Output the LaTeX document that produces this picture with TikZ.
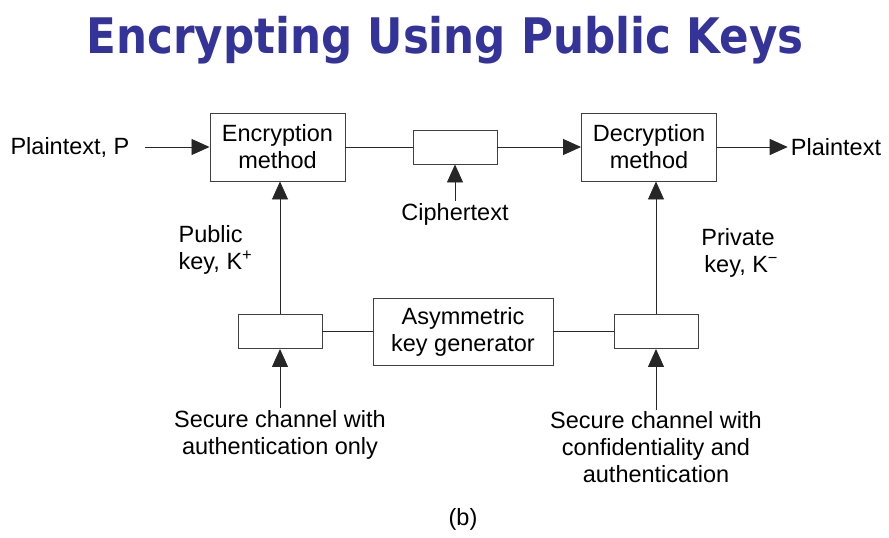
\documentclass[tikz,border=0pt]{standalone}
\usepackage{fontspec}
\setmainfont{Liberation Sans}
\newfontfamily\titlefont{DejaVu Sans}
\usetikzlibrary{arrows.meta}
\definecolor{titleblue}{HTML}{333399}
\tikzstyle{block} = [rectangle, minimum width=135pt, minimum height=68pt, text centered, align=center, draw=black!75, line width=0.9pt, inner sep=0pt]
\tikzstyle{slot} = [rectangle, minimum width=84pt, minimum height=34pt, draw=black!75, line width=0.9pt, inner sep=0pt]
\tikzstyle{txt} = [align=center, inner sep=2pt]
\tikzstyle{arrow} = [line width=0.9pt, black!85, -{Triangle[length=18pt,width=16pt]}]
\tikzstyle{link} = [line width=0.9pt, black!85]
\begin{document}
\begin{tikzpicture}[node distance=180pt, font=\fontsize{23.5}{27}\selectfont]
    \useasboundingbox (-277.5pt,147pt) rectangle (611.5pt,-391pt);

    \node (enc) [block] {Encryption\\method};
    \node (cipher) [slot, right of=enc, xshift=-2.5pt] {};
    \node (dec) [block, right of=cipher, xshift=14pt] {Decryption\\method};
    \node (plain_in) [txt, left of=enc, xshift=-27.5pt, inner xsep=15pt] {Plaintext, P};
    \node (plain_out) [txt, right of=dec, xshift=7pt, inner xsep=3pt] {Plaintext};
    \node (cipher_lbl) [txt, below of=cipher, yshift=113pt] {Ciphertext};
    \node (title) [above of=cipher, xshift=-10pt, yshift=-86.3pt, anchor=base, text=titleblue] {\scalebox{0.89}[1]{\fontsize{49}{55}\titlefont\bfseries Encrypting Using Public Keys}};

    \node (keygen) [block, minimum width=180pt, minimum height=67pt, below of=cipher, xshift=8pt, yshift=-4.5pt] {Asymmetric\\key generator};
    \node (pubbox) [slot, left of=keygen, xshift=-3pt] {};
    \node (privbox) [slot, right of=keygen, xshift=13pt] {};
    \node (pub_lbl) [txt, align=left, below of=enc, xshift=-62pt, yshift=77pt] {Public\\key, K\textsuperscript{+}};
    \node (priv_lbl) [txt, below of=dec, xshift=89pt, yshift=74pt] {Private\\\ key, K\textsuperscript{−}};
    \node (auth_lbl) [txt, below of=pubbox, yshift=77pt] {Secure channel with\\authentication only};
    \node (conf_lbl) [txt, below of=privbox, yshift=64pt] {Secure channel with\\confidentiality and\\authentication};
    \node (caption) [txt, below of=keygen, yshift=-7.5pt] {(b)};

    \draw [arrow] (plain_in) -- (enc);
    \draw [link] (enc) -- (cipher);
    \draw [arrow] (cipher) -- (dec);
    \draw [arrow] (dec) -- (plain_out);
    \draw [arrow] (cipher_lbl) -- (cipher);

    \draw [link] (pubbox) -- (keygen);
    \draw [link] (keygen) -- (privbox);
    \draw [arrow] (pubbox.north) -- (pubbox.north |- enc.south);
    \draw [arrow] (privbox.north) -- (privbox.north |- dec.south);
    \draw [arrow] (auth_lbl) -- (pubbox);
    \draw [arrow] (conf_lbl) -- (privbox);
\end{tikzpicture}
\end{document}
